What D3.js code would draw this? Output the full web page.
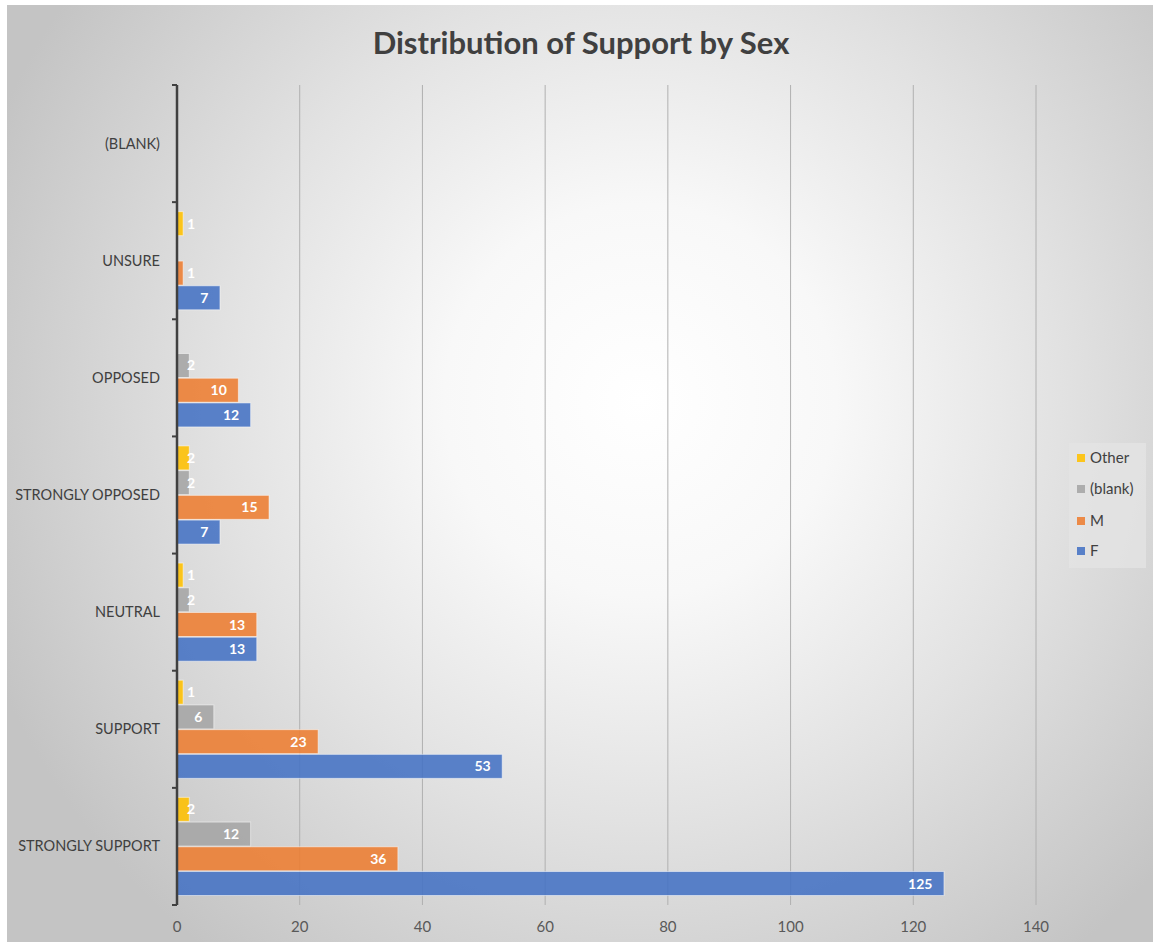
<!DOCTYPE html>
<html>
<head>
<meta charset="utf-8">
<script src="https://cdn.jsdelivr.net/npm/d3@7"></script>
<style>
  html, body { margin: 0; padding: 0; background: #ffffff; }
  svg { display: block; }
  text { font-family: Lato, "Open Sans", sans-serif; }
</style>
</head>
<body>
<svg id="chart" width="1153" height="947"></svg>
<script>
// Response categories, listed top to bottom
const categories = ["(BLANK)", "UNSURE", "OPPOSED", "STRONGLY OPPOSED", "NEUTRAL", "SUPPORT", "STRONGLY SUPPORT"];
// Series drawn top to bottom inside each category
const seriesNames = ["Other", "(blank)", "M", "F"];
const seriesColors = ["#FFC000", "#A5A5A5", "#ED7D31", "#4472C4"];
// Counts per category (null = no bar)
const otherValues = [null, 1, null, 2, 1, 1, 2];
const blankValues = [null, null, 2, 2, 2, 6, 12];
const mValues     = [null, 1, 10, 15, 13, 23, 36];
const fValues     = [null, 7, 12, 7, 13, 53, 125];
const xTicks = [0, 20, 40, 60, 80, 100, 120, 140];

const seriesValues = [otherValues, blankValues, mValues, fValues];

const W = 1153, H = 947;
const svg = d3.select("#chart");

// Background: chart frame with soft radial shading
const defs = svg.append("defs");
const grad = defs.append("radialGradient")
  .attr("id", "bgGrad")
  .attr("gradientUnits", "userSpaceOnUse")
  .attr("cx", 640).attr("cy", 400).attr("r", 700);
grad.append("stop").attr("offset", "0%").attr("stop-color", "#ffffff");
grad.append("stop").attr("offset", "28%").attr("stop-color", "#f8f8f8");
grad.append("stop").attr("offset", "60%").attr("stop-color", "#e2e2e2");
grad.append("stop").attr("offset", "100%").attr("stop-color", "#c4c4c4");

svg.append("rect").attr("x", 7).attr("y", 5).attr("width", W - 7).attr("height", 937)
  .attr("fill", "url(#bgGrad)");

// Title
svg.append("text")
  .attr("x", 581).attr("y", 54)
  .attr("text-anchor", "middle")
  .attr("font-size", 31).attr("font-weight", "bold")
  .attr("fill", "#404040")
  .text("Distribution of Support by Sex");

const plotTop = 85, plotBottom = 905;
const x = d3.scaleLinear().domain([0, 140]).range([177, 1036]);
const y = d3.scaleBand().domain(categories).range([plotTop, plotBottom]).padding(0);
const ySub = d3.scaleBand().domain(seriesNames)
  .range([9.5, y.bandwidth() - 9.5]).paddingInner(0.03);

// Vertical gridlines
svg.append("g").selectAll("line")
  .data(xTicks.filter(d => d > 0))
  .join("line")
  .attr("x1", d => x(d)).attr("x2", d => x(d))
  .attr("y1", plotTop).attr("y2", plotBottom)
  .attr("stroke", "#b0b0b0").attr("stroke-width", 1);

// X tick labels
svg.append("g").selectAll("text")
  .data(xTicks)
  .join("text")
  .attr("x", d => x(d)).attr("y", 932)
  .attr("text-anchor", "middle")
  .attr("font-size", 15).attr("fill", "#595959")
  .text(d => d);

// Bars
const barData = [];
categories.forEach((c, i) => {
  seriesNames.forEach((s, j) => {
    const v = seriesValues[j][i];
    if (v != null) barData.push({ cat: c, series: s, color: seriesColors[j], value: v });
  });
});

const bars = svg.append("g");
bars.selectAll("rect")
  .data(barData)
  .join("rect")
  .attr("x", x(0))
  .attr("y", d => y(d.cat) + ySub(d.series))
  .attr("width", d => x(d.value) - x(0))
  .attr("height", ySub.bandwidth())
  .attr("fill", d => d.color)
  .attr("fill-opacity", 0.88)
  .attr("stroke", "#ffffff").attr("stroke-opacity", 0.5).attr("stroke-width", 1);

// Value labels at the inside end of each bar
const labels = svg.append("g");
labels.selectAll("text")
  .data(barData)
  .join("text")
  .attr("y", d => y(d.cat) + ySub(d.series) + ySub.bandwidth() / 2 + 5)
  .attr("font-size", 14).attr("font-weight", "bold")
  .attr("fill", "#ffffff")
  .text(d => d.value)
  .each(function(d) {
    const w = this.getComputedTextLength();
    const xr = x(d.value) - 11.5 - w;
    d3.select(this).attr("x", Math.max(xr, x(0) + 10));
  });

// Category axis line with boundary ticks
const axisG = svg.append("g");
axisG.append("line")
  .attr("x1", x(0)).attr("x2", x(0))
  .attr("y1", plotTop).attr("y2", plotBottom)
  .attr("stroke", "#404040").attr("stroke-width", 2.5);
const bounds = categories.map(c => y(c)).concat([plotBottom]);
axisG.selectAll("line.tick")
  .data(bounds)
  .join("line")
  .attr("class", "tick")
  .attr("x1", x(0) - 5).attr("x2", x(0))
  .attr("y1", d => d).attr("y2", d => d)
  .attr("stroke", "#404040").attr("stroke-width", 2);

// Category labels
axisG.selectAll("text")
  .data(categories)
  .join("text")
  .attr("x", 160)
  .attr("y", d => y(d) + y.bandwidth() / 2 + 5)
  .attr("text-anchor", "end")
  .attr("font-size", 14.5).attr("fill", "#404040")
  .text(d => d);

// Legend (F at bottom, Other at top)
const legend = svg.append("g");
legend.append("rect")
  .attr("x", 1069).attr("y", 443).attr("width", 77).attr("height", 125)
  .attr("fill", "#e4e4e4").attr("fill-opacity", 0.8);
const legY = [458, 489, 521, 551];
seriesNames.forEach((s, j) => {
  legend.append("rect")
    .attr("x", 1077).attr("y", legY[j] - 4).attr("width", 8).attr("height", 8)
    .attr("fill", seriesColors[j]).attr("fill-opacity", 0.88);
  legend.append("text")
    .attr("x", 1090).attr("y", legY[j] + 5)
    .attr("font-size", 15).attr("fill", "#404040")
    .text(s);
});
</script>
</body>
</html>
